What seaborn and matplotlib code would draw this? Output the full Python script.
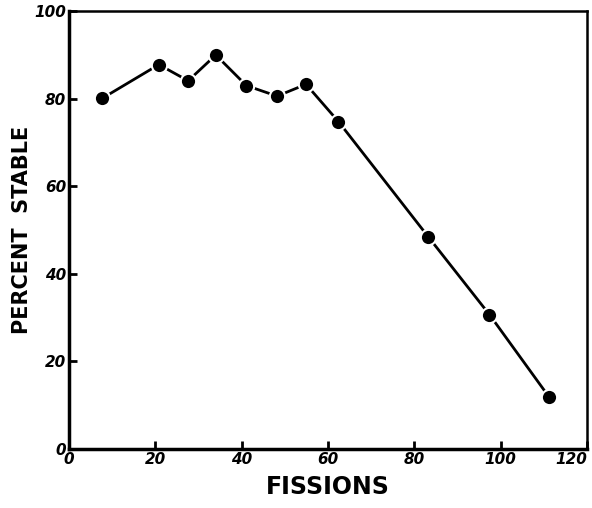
import matplotlib
matplotlib.use('Agg')
import matplotlib.pyplot as plt
import seaborn as sns
import pandas as pd

# values
fissions = [7.7, 20.8, 27.6, 34.0, 41.1, 48.2, 54.9, 62.4, 83.2, 97.4, 111.2]
percent_stable = [80.1, 87.8, 84.1, 90.0, 83.0, 80.6, 83.3, 74.8, 48.5, 30.7, 11.9]
x_ticks = [0, 20, 40, 60, 80, 100, 120]
y_ticks = [0, 20, 40, 60, 80, 100]

df = pd.DataFrame({'fissions': fissions, 'stable': percent_stable})

sns.set_style('ticks')
plt.rcParams['font.family'] = ['DejaVu Sans']

fig = plt.figure(figsize=(5.92, 5.08), dpi=100)
ax = fig.add_axes([0.1166, 0.116, 0.875, 0.862])

sns.lineplot(data=df, x='fissions', y='stable', ax=ax, color='black', linewidth=2,
             marker='o', markersize=11, markeredgecolor='white', markeredgewidth=1.5,
             markerfacecolor='black')

ax.set_xlim(0, 120)
ax.set_ylim(0, 100)
ax.set_xticks(x_ticks)
ax.set_yticks(y_ticks)
ax.tick_params(direction='in', length=6, width=2, colors='black', labelsize=11, pad=2)
for lab in ax.get_xticklabels() + ax.get_yticklabels():
    lab.set_fontweight('bold')
    lab.set_fontstyle('italic')
# last x label sits left of its tick, as in the original
ax.get_xticklabels()[-1].set_horizontalalignment('right')

for side in ['left', 'bottom']:
    ax.spines[side].set_linewidth(2.5)
for side in ['top', 'right']:
    ax.spines[side].set_linewidth(1.8)
    ax.spines[side].set_visible(True)
for s in ax.spines.values():
    s.set_color('black')

ax.set_xlabel('FISSIONS', fontsize=17, fontweight='bold', labelpad=6, color='black')
ax.set_ylabel('PERCENT  STABLE', fontsize=15, fontweight='bold', labelpad=2, color='black')

fig.savefig('out.png', dpi=100)
